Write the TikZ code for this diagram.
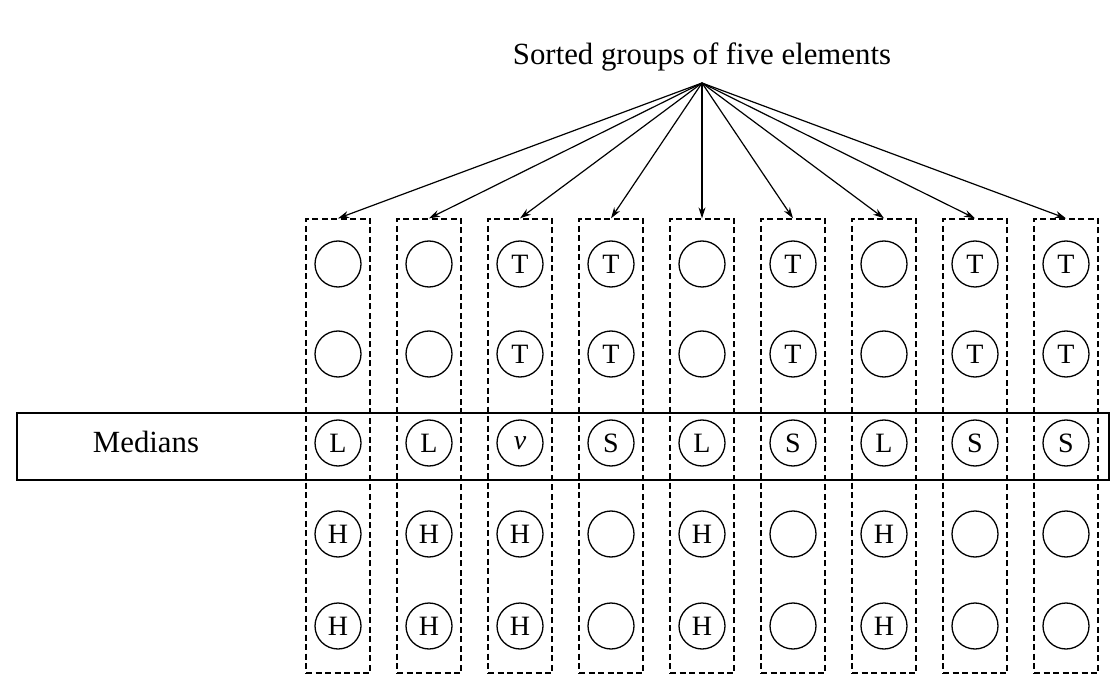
\documentclass[tikz,border=0pt]{standalone}
\usepackage{fontspec}
\setmainfont{Liberation Serif}
\usetikzlibrary{arrows.meta}
\begin{document}
\begin{tikzpicture}[x=1pt,y=-1pt,
  elem/.style={circle,draw,line width=1.3pt,minimum size=46pt,inner sep=0pt,font=\fontsize{28}{30}\selectfont},
  group/.style={draw,line width=1.3pt,dash pattern=on 6pt off 3.5pt,minimum width=64pt,minimum height=454pt,inner sep=0pt},
  band/.style={draw,line width=1.6pt,minimum width=1092pt,minimum height=67pt,inner sep=0pt},
  lbl/.style={font=\fontsize{30.8}{34}\selectfont,inner sep=0pt},
  fan/.style={-{Stealth[length=11pt,width=7pt]},line width=1.2pt}]
\useasboundingbox (0,0) rectangle (1116,692);
% row of medians
\node[band] (medians) at (563,446.5) {};
\node[lbl] (medlabel) at (146,442) {Medians};
% title and the point the arrows leave from
\node[lbl,anchor=base] (title) at (702,65) {Sorted groups of five elements};
\coordinate (hub) at (702,83);
% the nine groups: labels from top to bottom
\foreach \i/\a/\b/\c/\d/\e in {
  1/ / /L/H/H,
  2/ / /L/H/H,
  3/T/T/\textit{v}/H/H,
  4/T/T/S/ / ,
  5/ / /L/H/H,
  6/T/T/S/ / ,
  7/ / /L/H/H,
  8/T/T/S/ / ,
  9/T/T/S/ / }{
  \pgfmathsetmacro{\cx}{338+91*(\i-1)}
  \node[group] (g\i) at (\cx,446) {};
  \node[elem] (e\i-1) at (\cx,264) {\a};
  \node[elem] (e\i-2) at (\cx,354) {\b};
  \node[elem] (e\i-3) at (\cx,443) {\c};
  \node[elem] (e\i-4) at (\cx,534) {\d};
  \node[elem] (e\i-5) at (\cx,626) {\e};
  \draw[fan] (hub) -- (g\i.north);
}
\end{tikzpicture}
\end{document}
